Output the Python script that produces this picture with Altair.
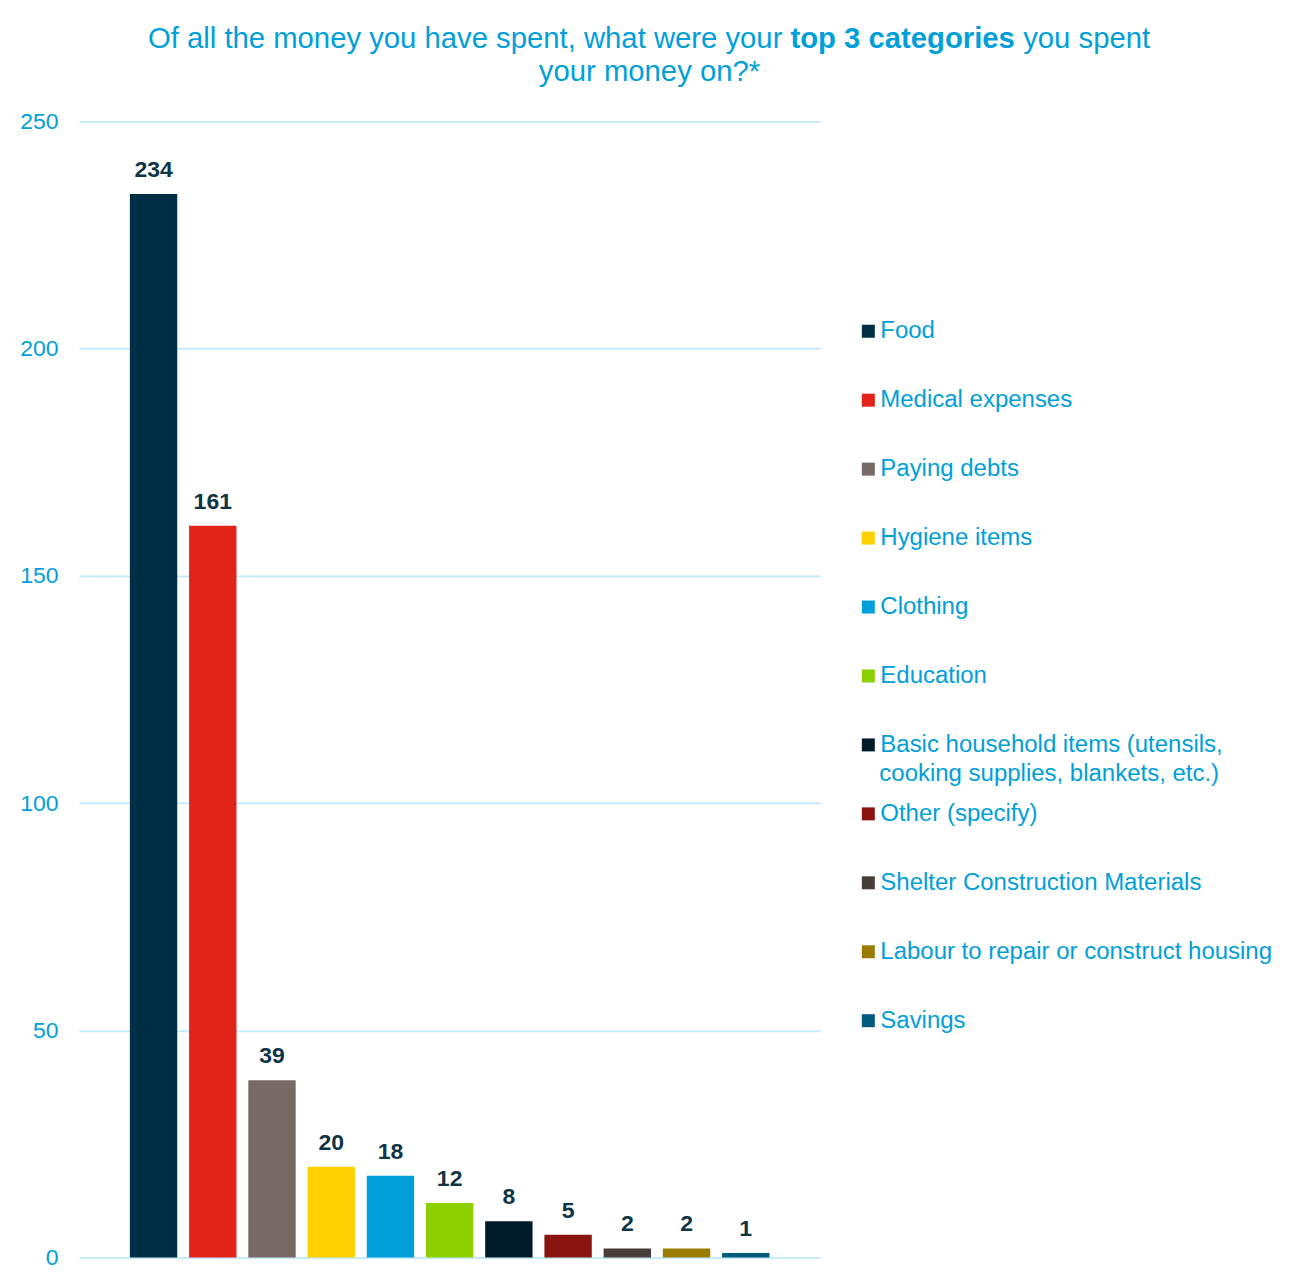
import altair as alt
import pandas as pd

categories = [
    "Food",
    "Medical expenses",
    "Paying debts",
    "Hygiene items",
    "Clothing",
    "Education",
    "Basic household items (utensils, cooking supplies, blankets, etc.)",
    "Other (specify)",
    "Shelter Construction Materials",
    "Labour to repair or construct housing",
    "Savings",
]
values = [234, 161, 39, 20, 18, 12, 8, 5, 2, 2, 1]
colors = [
    "#002F45", "#E2231A", "#776A65", "#FFD100", "#009FDA", "#8DD000",
    "#001C2B", "#8A1410", "#473D3B", "#9A7D00", "#005A7E",
]
y_ticks = [0, 50, 100, 150, 200, 250]
title_left = "Of all the money you have spent, what were your"
title_bold = "top 3 categories"
title_right = "you spent"
title_line2 = "your money on?*"
legend_line1 = "Basic household items (utensils,"
legend_line2 = "cooking supplies, blankets, etc.)"

FONT = "Liberation Sans"
BLUE = "#009FDA"

df = pd.DataFrame({"category": categories, "value": values})

base = alt.Chart(df).encode(
    x=alt.X("category:N", sort=categories, axis=None,
            scale=alt.Scale(paddingInner=0.2, paddingOuter=0.86)),
    y=alt.Y("value:Q", scale=alt.Scale(domain=[0, 250], nice=False),
            axis=alt.Axis(values=y_ticks, title=None, domain=False, ticks=False,
                          labelPadding=21, labelFontSize=23, labelColor=BLUE,
                          labelFont=FONT, gridColor="#C6ECFB", gridWidth=2)),
)

legend = alt.Legend(
    title=None, orient="none", legendX=778, legendY=198,
    symbolType="square", symbolSize=169, symbolStrokeWidth=0,
    labelFontSize=24, labelFont=FONT, labelColor=BLUE, labelLimit=600,
    labelOffset=0, rowPadding=45,
    labelExpr=f"datum.label == '{categories[6]}' ? '{legend_line1}' : datum.label",
)

bars = base.mark_bar().encode(
    color=alt.Color("category:N", sort=categories,
                    scale=alt.Scale(domain=categories, range=colors),
                    legend=legend)
)

labels = base.mark_text(dy=-17, baseline="alphabetic", fontSize=23,
                        fontWeight="bold", font=FONT, color="#0E3446").encode(
    text=alt.Text("value:Q")
)


def text_piece(txt, x, y, align, weight, size):
    return alt.Chart(pd.DataFrame({"t": [txt]})).mark_text(
        align=align, baseline="alphabetic", fontSize=size, font=FONT,
        fontWeight=weight, color=BLUE,
    ).encode(x=alt.value(x), y=alt.value(y), text="t:N")


t1 = text_piece(title_left, 704, -73, "right", "normal", 29.3)
t2 = text_piece(title_bold, 712, -73, "left", "bold", 29.3)
t3 = text_piece(title_right, 945, -73, "left", "normal", 29.3)
t4 = text_piece(title_line2, 571, -40, "center", "normal", 29.3)
leg2 = text_piece(legend_line2, 801, 660, "left", "normal", 24)

chart = alt.layer(bars, labels, t1, t2, t3, t4, leg2).properties(
    width=742, height=1137,
    autosize=alt.AutoSizeParams(type="none"),
    padding={"left": 71, "top": 113, "right": 470, "bottom": 12},
).configure(background="white").configure_view(stroke=None)

chart.save("out.html", embed_options={"renderer": "svg", "actions": False})
